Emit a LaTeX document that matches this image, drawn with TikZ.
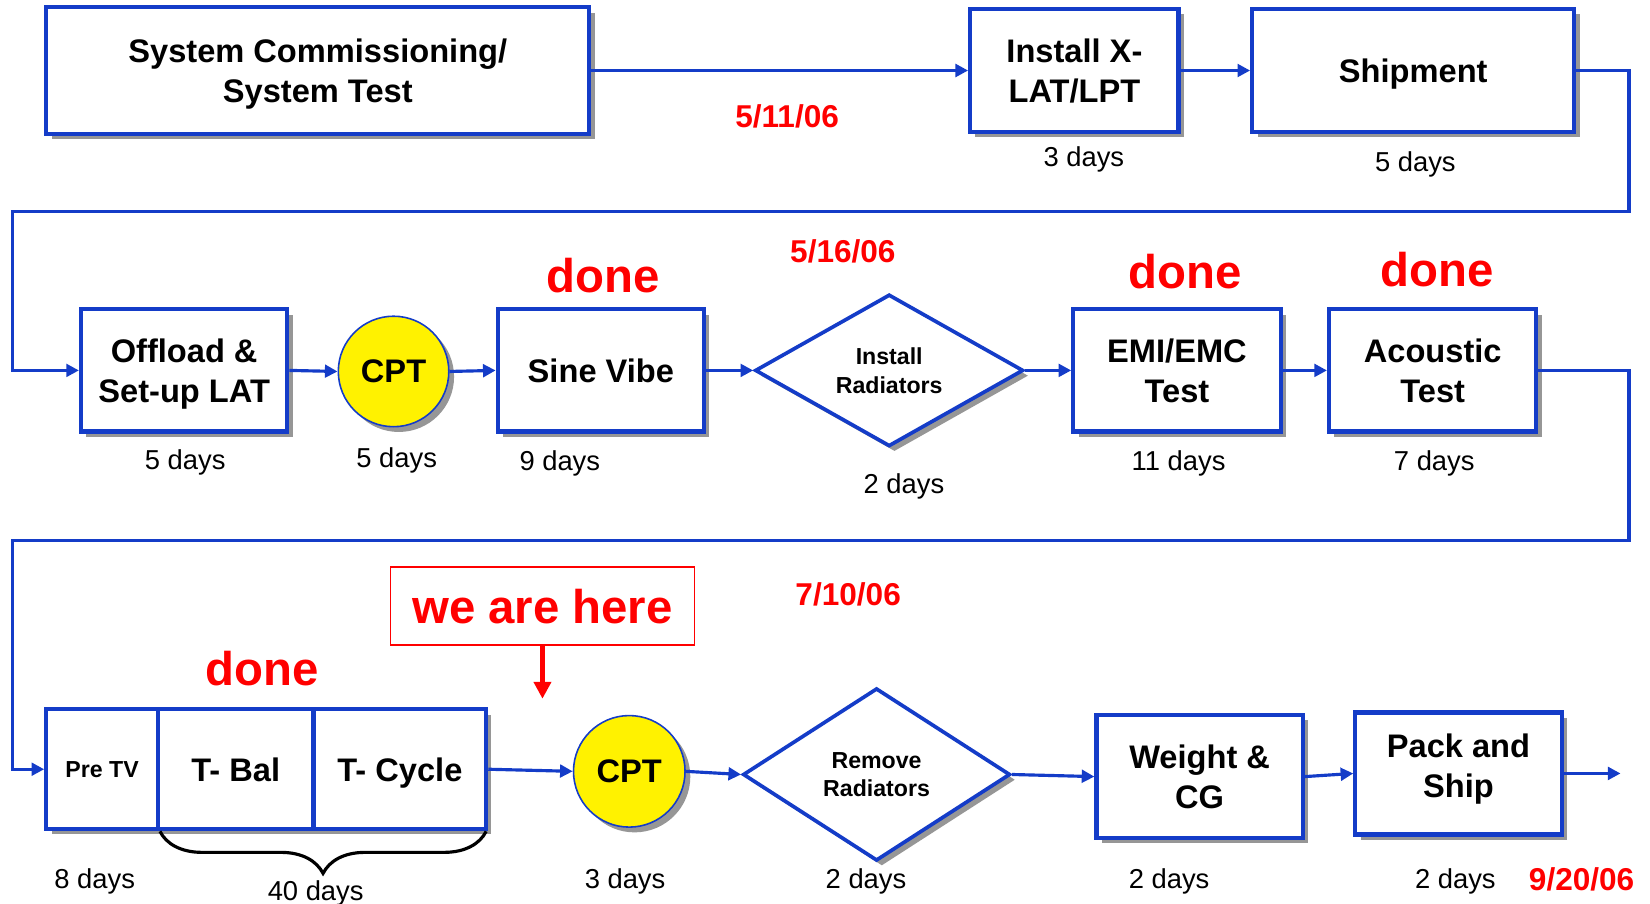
\documentclass[tikz,border=0pt]{standalone}
\usepackage{fontspec}
\setmainfont{Liberation Sans}
\usetikzlibrary{shapes.geometric,arrows.meta,shadows,decorations.pathreplacing}
\definecolor{lblue}{RGB}{20,60,200}
\definecolor{shgray}{RGB}{150,150,150}
\newcommand{\bxfont}{\fontsize{31}{38}\selectfont\bfseries}
\newcommand{\smfont}{\fontsize{22}{27}\selectfont\bfseries}
\newcommand{\dyfont}{\fontsize{26}{28}\selectfont}
\newcommand{\rdfont}{\fontsize{30}{30}\selectfont\bfseries}
\newcommand{\dnfont}{\fontsize{45}{45}\selectfont\bfseries}
\begin{document}
\begin{tikzpicture}[x=1pt,y=-1pt,
  shd/.style={drop shadow={shadow xshift=5pt,shadow yshift=-5pt,fill=shgray,opacity=1}},
  box/.style={draw=lblue,line width=4pt,fill=white,align=center,font=\bxfont,inner sep=0pt,text depth=0pt,shd},
  cpt/.style={circle,draw=lblue,line width=1.5pt,fill=yellow,font=\bxfont,inner sep=0pt,text depth=0pt,minimum size=105pt,shd},
  dia/.style={diamond,draw=lblue,line width=3.5pt,fill=white,align=center,font=\smfont,inner sep=0pt,text depth=0pt,shd},
  conn/.style={draw=lblue,line width=3pt,-{Triangle[length=12pt,width=12pt]}},
  days/.style={font=\dyfont,inner sep=0pt,text depth=0pt},
  rdate/.style={font=\rdfont,text=red,inner sep=0pt,text depth=0pt},
  done/.style={font=\dnfont,text=red,inner sep=0pt,text depth=0pt}]
\useasboundingbox (0,0) rectangle (1568,859);
\fill[white] (0,0) rectangle (1568,859);

% Row 1
\node[box,minimum width=516pt,minimum height=120pt] (sys) at (302,67) {System Commissioning/\\System Test};
\node[box,minimum width=198pt,minimum height=117pt] (inst) at (1021,67) {Install X-\\LAT/LPT};
\node[box,minimum width=306pt,minimum height=117pt] (ship) at (1343,67) {Shipment};
\node[rdate] (t1) at (748,110) {5/11/06};
\node[days] (d1) at (1030,149) {3 days};
\node[days] (d2) at (1345,154) {5 days};

% Row 2
\node[box,minimum width=196pt,minimum height=116pt] (off) at (175,352) {Offload \&\\Set-up LAT};
\node[cpt] (cpt1) at (374,353) {CPT};
\node[box,minimum width=196pt,minimum height=116pt] (sine) at (571,352) {Sine Vibe};
\node[dia,minimum width=255pt,minimum height=143pt] (inrad) at (845,352) {Install\\Radiators};
\node[box,minimum width=197pt,minimum height=116pt] (emi) at (1118.5,352) {EMI/EMC\\Test};
\node[box,minimum width=197pt,minimum height=116pt] (acou) at (1361.5,352) {Acoustic\\Test};
\node[rdate] (t2) at (801,239) {5/16/06};
\node[done] (dn1) at (573,262) {done};
\node[done] (dn2) at (1126,258) {done};
\node[done] (dn3) at (1366,256) {done};
\node[days] (d3) at (176,437) {5 days};
\node[days] (d4) at (377,435) {5 days};
\node[days] (d5) at (532,438) {9 days};
\node[days] (d6) at (859,460) {2 days};
\node[days] (d7) at (1120,438) {11 days};
\node[days] (d8) at (1363,438) {7 days};

% Row 3
\node[box,font=\smfont,minimum width=106pt,minimum height=114pt] (pre) at (97,731) {Pre TV};
\node[box,minimum width=148pt,minimum height=114pt] (tbal) at (224,731) {T- Bal};
\node[box,minimum width=164pt,minimum height=114pt] (tcyc) at (380,731) {T- Cycle};
\node[cpt,minimum size=106pt] (cpt2) at (598,733) {CPT};
\node[dia,minimum width=254pt,minimum height=164pt] (rmrad) at (833,736) {Remove\\Radiators};
\node[box,minimum width=196pt,minimum height=117pt] (wgt) at (1140,738) {Weight \&\\CG};
\node[box,minimum width=196pt,minimum height=116pt,text depth=14pt] (pack) at (1386,735) {Pack and\\Ship};
\node[rdate] (t3) at (806,565) {7/10/06};
\node[done] (dn4) at (249,635) {done};
\node[draw=red,line width=1.5pt,font=\dnfont,text=red,minimum width=289pt,minimum height=74pt,inner sep=0pt,text depth=0pt] (here) at (515.5,576) {we are here};
\coordinate (herept) at (515.5,664);
\node[days] (d9) at (90,835) {8 days};
\node[days] (d10) at (300,846) {40 days};
\node[days] (d11) at (594,835) {3 days};
\node[days] (d12) at (823,835) {2 days};
\node[days] (d13) at (1111,835) {2 days};
\node[days] (d14) at (1383,835) {2 days};
\node[rdate] (t4) at (1503,835) {9/20/06};

% Connectors
\coordinate (c1) at (1548,201);
\coordinate (c2) at (12,201);
\coordinate (c3) at (1548,514);
\coordinate (c4) at (12,514);
\coordinate (fin) at (1540,735);
\draw[conn] (sys.east) -- (inst.west);
\draw[conn] (inst.east) -- (ship.west);
\draw[conn] (ship.east) -| (c1) -- (c2) |- (off.west);
\draw[conn] (off.east) -- (cpt1.west);
\draw[conn] (cpt1.east) -- (sine.west);
\draw[conn] (sine.east) -- (inrad.west);
\draw[conn] (inrad.east) -- (emi.west);
\draw[conn] (emi.east) -- (acou.west);
\draw[conn] (acou.east) -| (c3) -- (c4) |- (pre.west);
\draw[conn] (tcyc.east) -- (cpt2.west);
\draw[conn] (cpt2.east) -- (rmrad.west);
\draw[conn] (rmrad.east) -- (wgt.west);
\draw[conn] (wgt.east) -- (pack.west);
\draw[conn] (pack.east) -- (fin);
\draw[red,line width=4pt,-{Triangle[length=16pt,width=16pt]}] (here.south) -- (herept);
\draw[decorate,decoration={brace,mirror,amplitude=40pt},line width=3pt] ([xshift=4pt]tbal.south west) -- ([xshift=-2pt]tcyc.south east);
\end{tikzpicture}
\end{document}
